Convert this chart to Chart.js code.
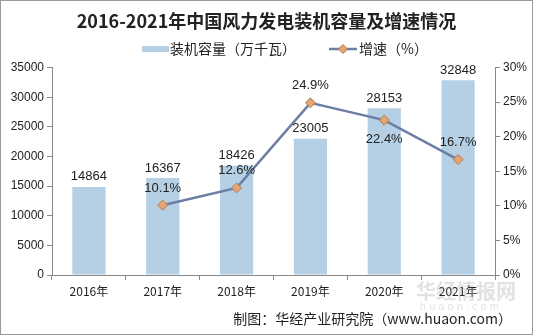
<!DOCTYPE html>
<html><head><meta charset="utf-8">
<script src="https://cdn.jsdelivr.net/npm/chart.js@4"></script>
<style>html,body{margin:0;padding:0;background:#fff}#w{width:533px;height:335px}</style>
</head><body><div id="w"><canvas id="c" width="533" height="335"></canvas></div>
<script>
const categories = ['2016年','2017年','2018年','2019年','2020年','2021年'];
const capacity = [14864, 16367, 18426, 23005, 28153, 32848];
const growth = [null, 10.1, 12.6, 24.9, 22.4, 16.7];
const growthLabels = [null, '10.1%', '12.6%', '24.9%', '22.4%', '16.7%'];
const growthLabelBelow = [false, false, false, false, true, false];
const leftTicks = [0,5000,10000,15000,20000,25000,30000,35000];
const rightTicks = [0,5,10,15,20,25,30];

const BAR = '#b5d0e4', LINE = '#6d7ea4', PT = '#e4a574', PTB = '#b57a4e';
const FONT = "'Liberation Sans', Arial, sans-serif";
const CJK = "'Noto Sans CJK SC', sans-serif";

const deco = {
  id:'deco',
  beforeDraw(chart){
    const ctx = chart.ctx; ctx.save(); ctx.fillStyle='#fff'; ctx.fillRect(0,0,533,335); ctx.restore();
  },
  afterDatasetsDraw(chart){
    const ctx = chart.ctx; ctx.save();
    ctx.font = '13px '+FONT; ctx.fillStyle = '#222'; ctx.textAlign='center'; ctx.textBaseline='middle';
    chart.getDatasetMeta(1).data.forEach((b,i)=>{ ctx.fillText(String(capacity[i]), b.x, b.y-10); });
    chart.getDatasetMeta(0).data.forEach((p,i)=>{
      if(growth[i]==null) return;
      ctx.fillText(growthLabels[i], p.x, p.y + (growthLabelBelow[i]?19:-17));
    });
    ctx.restore();
  },
  afterDraw(chart){
    const ctx = chart.ctx; ctx.save();
    // legend
    const ly = 49;
    const ds = chart.data.datasets;
    ctx.fillStyle = BAR; ctx.fillRect(142, ly-3, 27, 6);
    ctx.fillStyle = '#222'; ctx.font = '14px '+CJK; ctx.textAlign='left'; ctx.textBaseline='middle';
    ctx.fillText(ds[1].label, 170, ly);
    ctx.strokeStyle = LINE; ctx.lineWidth = 2.5; ctx.beginPath(); ctx.moveTo(329, ly); ctx.lineTo(357, ly); ctx.stroke();
    ctx.fillStyle = PT; ctx.strokeStyle = PTB; ctx.lineWidth = 1;
    ctx.beginPath(); ctx.moveTo(343, ly-4.5); ctx.lineTo(347.5, ly); ctx.lineTo(343, ly+4.5); ctx.lineTo(338.5, ly); ctx.closePath(); ctx.fill(); ctx.stroke();
    ctx.fillStyle = '#222'; ctx.fillText(ds[0].label, 359, ly);
    // watermark
    ctx.fillStyle='rgba(160,160,160,0.3)'; ctx.font='bold 20px '+CJK; ctx.textAlign='left';
    ctx.fillText('华经情报网', 416, 291);
    ctx.font='11px '+FONT; ctx.fillText('h u a o n . c o m', 420, 307);
    // source
    ctx.fillStyle='#222'; ctx.font='14px '+CJK; ctx.textAlign='right';
    ctx.fillText('制图：华经产业研究院（www.huaon.com）', 512, 319);
    ctx.strokeStyle='#9a9a9a'; ctx.lineWidth=1; ctx.strokeRect(0.5,0.5,532,334);
    ctx.restore();
  }
};

new Chart(document.getElementById('c'), {
  data:{
    labels: categories,
    datasets:[
      {type:'line', label:'增速（%）', data: growth, yAxisID:'y1', borderColor:LINE, borderWidth:2.5,
       pointStyle:'rectRot', pointRadius:5, pointBackgroundColor:PT, pointBorderColor:PTB, pointBorderWidth:1, order:0, spanGaps:false},
      {type:'bar', label:'装机容量（万千瓦）', data: capacity, yAxisID:'y', backgroundColor:BAR,
       categoryPercentage:0.9, barPercentage:0.5, order:1}
    ]
  },
  options:{
    responsive:false, animation:false, devicePixelRatio:1,
    layout:{padding:{left:0,right:0,top:0,bottom:0}},
    plugins:{
      title:{display:true, text:'2016-2021年中国风力发电装机容量及增速情况', color:'#222',
        font:{family:CJK, size:18, weight:'bold'}, padding:{top:10,bottom:36}},
      legend:{display:false},
      tooltip:{enabled:false}
    },
    scales:{
      x:{grid:{display:true, drawOnChartArea:false, drawTicks:true, tickLength:5, color:'#888', offset:true},
         border:{display:true, color:'#888'},
         ticks:{color:'#222', font:{family:CJK,size:12}, padding:4},
         afterFit(s){ s.height = 60; }},
      y:{position:'left', min:0, max:35000,
         afterBuildTicks(s){ s.ticks = leftTicks.map(v=>({value:v})); },
         grid:{display:true, drawOnChartArea:false, tickLength:5, color:'#888'},
         border:{display:true, color:'#888'},
         ticks:{color:'#222', font:{family:FONT,size:12}, padding:3, callback:v=>String(v)},
         afterFit(s){ s.width = 52; }},
      y1:{position:'right', min:0, max:30,
         afterBuildTicks(s){ s.ticks = rightTicks.map(v=>({value:v})); },
         grid:{display:true, drawOnChartArea:false, tickLength:5, color:'#888'},
         border:{display:true, color:'#888'},
         ticks:{color:'#222', font:{family:FONT,size:12}, padding:3, callback:v=>v+'%'},
         afterFit(s){ s.width = 38; }}
    }
  },
  plugins:[deco]
});
</script></body></html>
